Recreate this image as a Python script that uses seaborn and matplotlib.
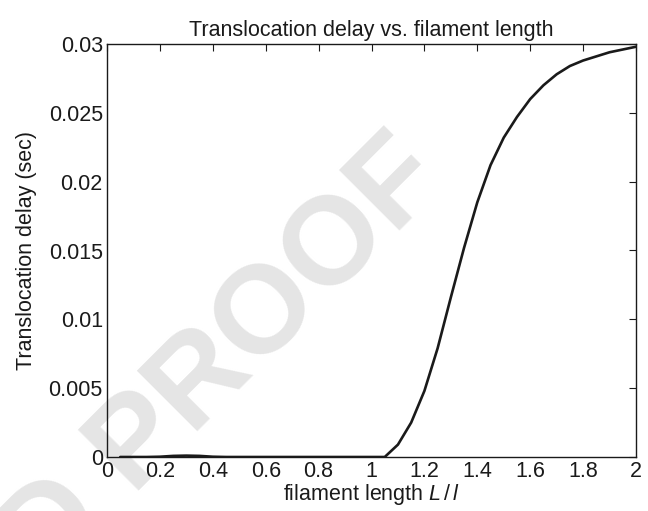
import matplotlib
matplotlib.use("Agg")
import matplotlib.pyplot as plt
import seaborn as sns
import pandas as pd

# ---- data ----
filament_length = [0.05, 0.10, 0.15, 0.20, 0.25, 0.30, 0.35, 0.40, 0.45, 0.50,
                   0.55, 0.60, 0.65, 0.70, 0.75, 0.80, 0.85, 0.90, 0.95, 1.00,
                   1.05, 1.10, 1.15, 1.20, 1.25, 1.30, 1.35, 1.40, 1.45, 1.50,
                   1.55, 1.60, 1.65, 1.70, 1.75, 1.80, 1.85, 1.90, 1.95, 2.00]
delay = [0.0, 0.0, 0.0, 0.00002, 0.00008, 0.0001, 0.00008, 0.00002, 0.0, 0.0,
         0.0, 0.0, 0.0, 0.0, 0.0, 0.0, 0.0, 0.0, 0.0, 0.0,
         0.0, 0.0009, 0.0025, 0.0048, 0.0079, 0.0116, 0.0152, 0.0185, 0.0212, 0.0232,
         0.0247, 0.0260, 0.0270, 0.0278, 0.0284, 0.0288, 0.0291, 0.0294, 0.0296, 0.0298]
x_ticks = [0, 0.2, 0.4, 0.6, 0.8, 1.0, 1.2, 1.4, 1.6, 1.8, 2.0]
x_tick_labels = ["0", "0.2", "0.4", "0.6", "0.8", "1", "1.2", "1.4", "1.6", "1.8", "2"]
y_ticks = [0, 0.005, 0.01, 0.015, 0.02, 0.025, 0.03]
y_tick_labels = ["0", "0.005", "0.01", "0.015", "0.02", "0.025", "0.03"]

sns.set_style("white")
plt.rcParams["font.family"] = ["Liberation Sans", "DejaVu Sans"]
plt.rcParams["mathtext.fontset"] = "custom"
plt.rcParams["mathtext.rm"] = "Liberation Sans"
plt.rcParams["mathtext.it"] = "Liberation Sans:italic"

df = pd.DataFrame({"L": filament_length, "delay": delay})

FS = 15.5
TXT = "#1a1a1a"

fig = plt.figure(figsize=(6.48, 5.11), dpi=100)
fig.patch.set_facecolor("white")

# watermark behind the axes
fig.text(448 / 648, 1 - 182 / 511, "UNCORRECTED PROOF", rotation=45,
         rotation_mode="anchor", ha="right", va="baseline", fontsize=90,
         fontweight="bold", color="#e5e5e5", zorder=0)

ax = fig.add_axes([107 / 648, 1 - 457 / 511, 529 / 648, 413 / 511])
ax.set_facecolor("none")
ax.set_zorder(1)

sns.lineplot(data=df, x="L", y="delay", ax=ax, color=TXT, linewidth=1.9)

ax.set_xlim(0, 2)
ax.set_ylim(0, 0.03)
ax.set_xticks(x_ticks)
ax.set_xticklabels(x_tick_labels)
ax.set_yticks(y_ticks)
ax.set_yticklabels(y_tick_labels)
ax.tick_params(direction="in", length=5, width=0.8, top=True, right=True,
               labelsize=FS, colors=TXT)
ax.tick_params(axis="y", pad=3)
ax.tick_params(axis="x", pad=3)
for s in ax.spines.values():
    s.set_visible(True)
    s.set_color(TXT)
    s.set_linewidth(1.0)

ax.set_title("Translocation delay vs. filament length", fontsize=FS,
             color=TXT, pad=6)
ax.set_xlabel(r"filament length $L\,/\,l$", fontsize=FS, color=TXT, labelpad=0)
ax.set_ylabel("Translocation delay (sec)", fontsize=FS, color=TXT, labelpad=8)

fig.savefig("out.png", dpi=100)
